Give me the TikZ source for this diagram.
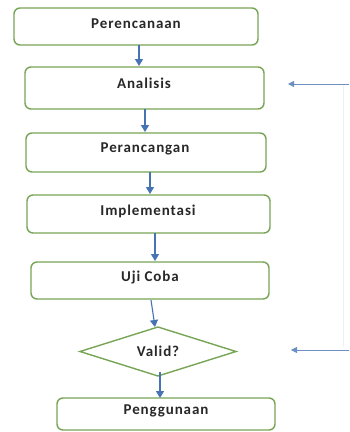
\documentclass[tikz,border=0pt]{standalone}
\usepackage{fontspec}
\setmainfont{Carlito}
\newfontfamily\lblfont[LetterSpace=6]{Carlito}
\usetikzlibrary{shapes.geometric,arrows.meta}
\definecolor{boxgreen}{RGB}{120,165,85}
\definecolor{arrblue}{RGB}{70,115,180}
\definecolor{txtgray}{RGB}{40,40,40}
\tikzset{
  stepbox/.style={draw=boxgreen, line width=1.4pt, rounded corners=6pt, inner sep=0pt, fill=white},
  lbl/.style={font=\lblfont\bfseries\fontsize{15}{17}\selectfont, text=txtgray, inner sep=0pt},
  flow/.style={draw=arrblue, line width=1.1pt, -{Triangle[length=7pt,width=8pt]}},
  back/.style={draw=arrblue!80, line width=0.8pt, -{Triangle[length=6pt,width=6pt]}}
}
\begin{document}
\begin{tikzpicture}[x=1pt,y=-1pt]
\useasboundingbox[fill=white] (0,0) rectangle (349,432);
\node[stepbox, minimum width=244pt, minimum height=37pt] (p1) at (136,26.5) {};
\node[stepbox, minimum width=239pt, minimum height=42pt] (p2) at (144.5,88) {};
\node[stepbox, minimum width=240pt, minimum height=39pt] (p3) at (146,152.5) {};
\node[stepbox, minimum width=243pt, minimum height=38pt] (p4) at (148.5,214) {};
\node[stepbox, minimum width=238pt, minimum height=37pt] (p5) at (150,280.5) {};
\draw[draw=boxgreen, line width=1.4pt, fill=white] (80,351.5) -- (158,327) -- (236,351.5) -- (158,376) -- cycle;
\coordinate (dtop) at (155,327);
\coordinate (dbot) at (160,372);
\node[stepbox, minimum width=218pt, minimum height=32pt] (p6) at (166,414) {};

\node[lbl] (t1) at (136,24) {Perencanaan};
\node[lbl] (t2) at (144,83) {Analisis};
\node[lbl] (t3) at (145,149) {Perancangan};
\node[lbl] (t4) at (148,211) {Implementasi};
\node[lbl] (t5) at (150,277) {Uji Coba};
\node[lbl] (t6) at (158,351) {Valid?};
\node[lbl] (t7) at (166,411) {Penggunaan};

\draw[flow] (139,45) -- (139,66);
\draw[flow] (145,109) -- (145,132);
\draw[flow] (150,172) -- (150,194);
\draw[flow] (155,233) -- (155,261);
\draw[flow] (151,300) -- (dtop);
\draw[flow] (dbot) -- (160,398);

\coordinate (r1) at (349,84);
\coordinate (r2) at (349,350);
\coordinate (a1) at (288,84);
\coordinate (a2) at (291,350);
\draw[black!6, line width=0.8pt] (343,85) -- (343,347);
\draw[back] (r1) -- (a1);
\draw[back] (r2) -- (a2);
\end{tikzpicture}
\end{document}
